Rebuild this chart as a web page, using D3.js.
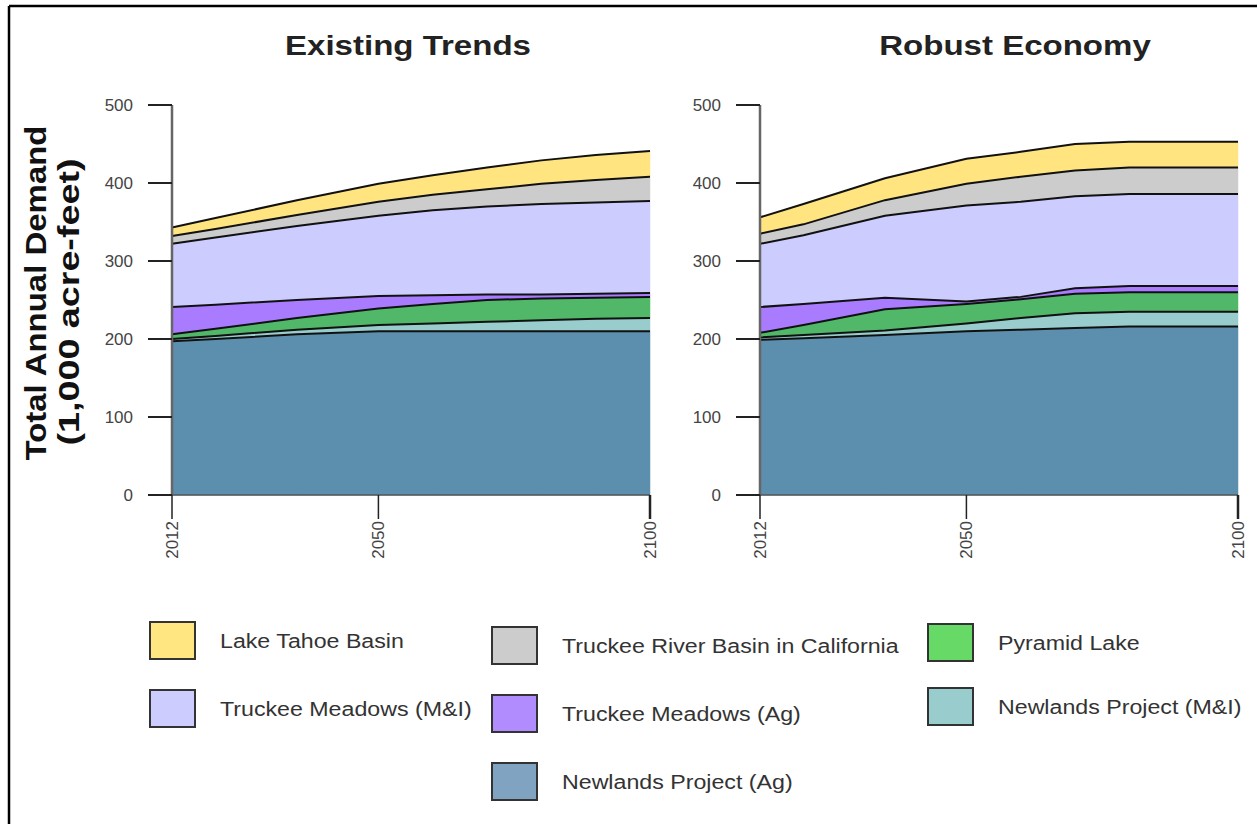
<!DOCTYPE html>
<html>
<head>
<meta charset="utf-8">
<script src="https://cdn.jsdelivr.net/npm/d3@7/dist/d3.min.js"></script>
<style>
  html, body { margin: 0; padding: 0; background: #fff; }
  svg { display: block; }
  text { font-family: "Liberation Sans", Arial, sans-serif; }
</style>
</head>
<body>
<svg id="chart" width="1257" height="824"></svg>
<script>
// ---------- DATA ----------
const years = [2012, 2020, 2035, 2050, 2060, 2070, 2080, 2090, 2100];
const xTicks = [2012, 2050, 2100];
const yTicks = [0, 100, 200, 300, 400, 500];
const panelTitles = ["Existing Trends", "Robust Economy"];

// Stack order bottom -> top
const seriesNames = [
  "Newlands Project (Ag)",
  "Newlands Project (M&I)",
  "Pyramid Lake",
  "Truckee Meadows (Ag)",
  "Truckee Meadows (M&I)",
  "Truckee River Basin in California",
  "Lake Tahoe Basin"
];

// Existing Trends (1,000 acre-feet)
const etNewlandsAg   = [197, 200, 206, 210, 210, 210, 210, 210, 210];
const etNewlandsMI   = [3, 4, 6, 8, 10, 12, 14, 16, 17];
const etPyramid      = [6, 9, 15, 21, 25, 28, 28, 27, 27];
const etTruckeeAg    = [35, 31, 23, 16, 11, 7, 5, 5, 5];
const etTruckeeMI    = [81, 86, 95, 103, 109, 113, 116, 117, 118];
const etTruckeeCA    = [10, 11, 14, 18, 20, 22, 26, 29, 31];
const etTahoe        = [11, 14, 19, 23, 25, 28, 30, 32, 33];

// Robust Economy (1,000 acre-feet)
const reNewlandsAg   = [199, 201, 205, 210, 212, 214, 216, 216, 216];
const reNewlandsMI   = [3, 4, 6, 10, 15, 19, 19, 19, 19];
const rePyramid      = [6, 13, 27, 25, 24, 25, 25, 25, 25];
const reTruckeeAg    = [33, 27, 15, 3, 3, 7, 8, 8, 8];
const reTruckeeMI    = [81, 88, 105, 123, 122, 118, 118, 118, 118];
const reTruckeeCA    = [13, 14, 20, 28, 32, 33, 34, 34, 34];
const reTahoe        = [21, 26, 28, 32, 32, 34, 33, 33, 33];

const areaColors = ["#5c8ead", "#99cccc", "#50b868", "#a97cff", "#ccccff", "#cccccc", "#ffe480"];
const legendColors = ["#80a3c2", "#99cccc", "#66d966", "#b08cff", "#ccccff", "#cccccc", "#ffe680"];

// legend layout order (row-major as in the reference)
const legendOrder = [
  "Lake Tahoe Basin", "Truckee River Basin in California", "Pyramid Lake",
  "Truckee Meadows (M&I)", "Truckee Meadows (Ag)", "Newlands Project (M&I)",
  "Newlands Project (Ag)"
];

// ---------- BUILD ----------
function buildRows(cols) {
  return years.map((yr, i) => {
    const r = { year: yr };
    seriesNames.forEach((n, k) => r[n] = cols[k][i]);
    return r;
  });
}
const panels = [
  buildRows([etNewlandsAg, etNewlandsMI, etPyramid, etTruckeeAg, etTruckeeMI, etTruckeeCA, etTahoe]),
  buildRows([reNewlandsAg, reNewlandsMI, rePyramid, reTruckeeAg, reTruckeeMI, reTruckeeCA, reTahoe])
];

const svg = d3.select("#chart");

// frame (top and left border)
svg.append("line").attr("x1", 9).attr("x2", 1257).attr("y1", 6).attr("y2", 6)
  .attr("stroke", "#000").attr("stroke-width", 2.5);
svg.append("line").attr("x1", 9).attr("x2", 9).attr("y1", 6).attr("y2", 824)
  .attr("stroke", "#000").attr("stroke-width", 2.5);

const panelX = [[172, 650], [760, 1238]];
const yRange = [495, 105];
const titleX = [408, 1015];

const stack = d3.stack().keys(seriesNames);

panels.forEach((rows, p) => {
  const x = d3.scaleLinear().domain([2012, 2100]).range(panelX[p]);
  const y = d3.scaleLinear().domain([0, 500]).range(yRange);
  const g = svg.append("g");
  const layers = stack(rows);

  const area = d3.area().x(d => x(d.data.year)).y0(d => y(d[0])).y1(d => y(d[1]));
  const topLine = d3.line().x(d => x(d.data.year)).y(d => y(d[1]));

  g.selectAll("path.area").data(layers).join("path")
    .attr("class", "area")
    .attr("d", area)
    .attr("fill", (d, i) => areaColors[i])
    .attr("stroke", (d, i) => areaColors[i])
    .attr("stroke-width", 0.5);

  g.selectAll("path.top").data(layers).join("path")
    .attr("class", "top")
    .attr("d", topLine)
    .attr("fill", "none")
    .attr("stroke", "#111")
    .attr("stroke-width", 2);

  // y axis
  const ax = panelX[p][0];
  g.append("line").attr("x1", ax).attr("x2", ax).attr("y1", y(0)).attr("y2", y(500))
    .attr("stroke", "#666").attr("stroke-width", 2.5);
  g.selectAll("line.yt").data(yTicks).join("line")
    .attr("x1", ax - 24).attr("x2", ax).attr("y1", d => y(d)).attr("y2", d => y(d))
    .attr("stroke", "#222").attr("stroke-width", 2);
  g.selectAll("text.yl").data(yTicks).join("text")
    .attr("x", ax - 39).attr("y", d => y(d)).attr("dy", "0.35em")
    .attr("text-anchor", "end")
    .attr("font-size", 17).attr("fill", "#444")
    .text(d => d);

  // x axis
  g.append("line").attr("x1", x(2012)).attr("x2", x(2100)).attr("y1", y(0)).attr("y2", y(0))
    .attr("stroke", "#555").attr("stroke-width", 1.5);
  g.selectAll("line.xt").data(xTicks).join("line")
    .attr("x1", d => x(d)).attr("x2", d => x(d)).attr("y1", y(0)).attr("y2", y(0) + 24)
    .attr("stroke", "#222").attr("stroke-width", (d, i) => i === 2 ? 2.5 : 1.5);
  g.selectAll("text.xl").data(xTicks).join("text")
    .attr("text-anchor", "end").attr("dy", "0.35em")
    .attr("font-size", 17).attr("fill", "#444")
    .attr("transform", d => `translate(${x(d)},${y(0) + 26}) rotate(-90)`)
    .text(d => d);

  // title
  svg.append("text")
    .attr("text-anchor", "middle").attr("font-size", 28).attr("font-weight", "bold")
    .attr("fill", "#222")
    .attr("transform", `translate(${titleX[p]},55) scale(1.18,1)`)
    .text(panelTitles[p]);
});

// y-axis title
svg.append("text").attr("transform", "translate(46,293) rotate(-90)")
  .attr("text-anchor", "middle").attr("font-size", 30).attr("font-weight", "bold")
  .attr("textLength", 335).attr("lengthAdjust", "spacingAndGlyphs")
  .attr("fill", "#111").text("Total Annual Demand");
svg.append("text").attr("transform", "translate(79,302) rotate(-90)")
  .attr("text-anchor", "middle").attr("font-size", 30).attr("font-weight", "bold")
  .attr("textLength", 287).attr("lengthAdjust", "spacingAndGlyphs")
  .attr("fill", "#111").text("(1,000 acre-feet)");

// legend
const legendPos = [
  [150, 622], [492, 627], [928, 624],
  [150, 690], [492, 695], [928, 688],
  [492, 763]
];
const lg = svg.append("g");
legendOrder.forEach((name, i) => {
  const k = seriesNames.indexOf(name);
  const [lx, ly] = legendPos[i];
  lg.append("rect").attr("x", lx).attr("y", ly).attr("width", 45).attr("height", 37)
    .attr("fill", legendColors[k]).attr("stroke", "#333").attr("stroke-width", 2);
  lg.append("text").attr("dy", "0.35em")
    .attr("font-size", 20).attr("fill", "#333")
    .attr("transform", `translate(${lx + 70},${ly + 19}) scale(1.16,1)`)
    .text(name);
});
</script>
</body>
</html>
